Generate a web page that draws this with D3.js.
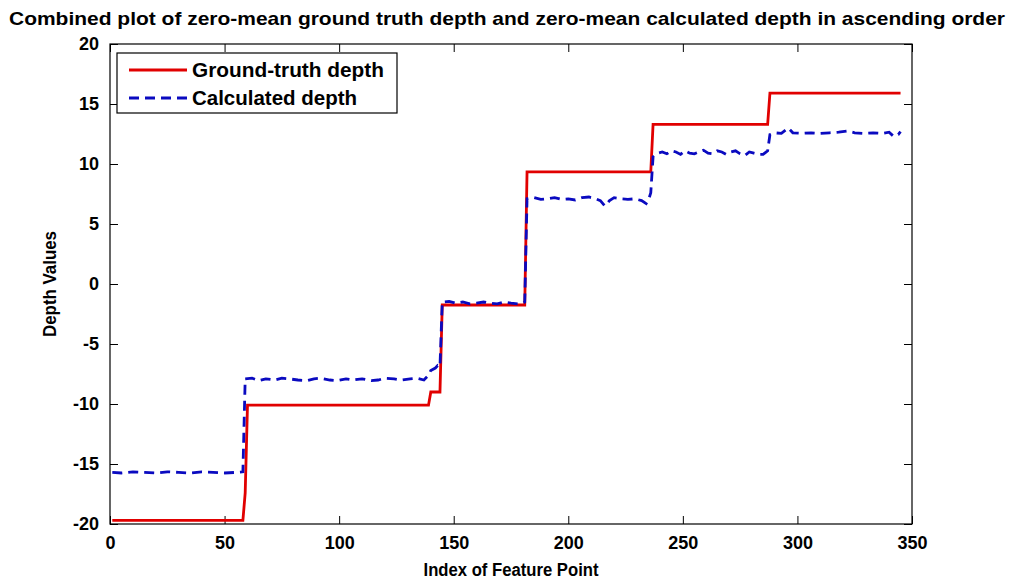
<!DOCTYPE html>
<html>
<head>
<meta charset="utf-8">
<script src="https://cdn.jsdelivr.net/npm/d3@7"></script>
<style>
  html, body { margin: 0; padding: 0; background: #fff; }
  svg { display: block; }
  text { font-family: "Liberation Sans", Arial, sans-serif; font-weight: bold; fill: #000; }
</style>
</head>
<body>
<svg id="chart" width="1012" height="581"></svg>
<script>
// ---- Data ----
const titleText = "Combined plot of zero-mean ground truth depth and zero-mean calculated depth in ascending order";
const xLabel = "Index of Feature Point";
const yLabel = "Depth Values";
const seriesNames = ["Ground-truth depth", "Calculated depth"];

const xTicks = [0, 50, 100, 150, 200, 250, 300, 350];
const yTicks = [-20, -15, -10, -5, 0, 5, 10, 15, 20];

// Ground-truth depth (index, value) at its step corners
const gtIndex = [1, 58, 59, 60, 139, 140, 144, 145, 181, 182, 236, 237, 287, 288, 345];
const gtValue = [-19.7, -19.7, -17.4, -10.1, -10.1, -9.0, -9.0, -1.75, -1.75, 9.35, 9.35, 13.3, 13.3, 15.9, 15.9];

// Calculated depth (index, value)
const calcIndex = [
  1, 5, 10, 15, 20, 25, 30, 35, 40, 45, 50, 55, 58,
  59, 62, 65, 68, 72, 75, 78, 82, 86, 89, 92, 96, 99, 103, 106, 110, 114, 117, 120, 124, 127, 131, 134, 137, 139, 140, 142, 143, 144,
  145, 148, 151, 154, 157, 160, 163, 166, 169, 172, 175, 178, 180, 181,
  182, 185, 188, 191, 194, 197, 200, 203, 206, 209, 212, 214, 216, 218, 220, 223, 226, 229, 232, 234, 235, 236,
  237, 239, 241, 243, 245, 247, 249, 251, 253, 255, 257, 259, 261, 263, 265, 267, 269, 271, 273, 275, 277, 279, 281, 283, 285, 286, 287,
  288, 290, 293, 296, 298, 302, 306, 310, 314, 318, 322, 325, 329, 333, 337, 340, 342, 344, 345
];
const calcValue = [
  -15.7, -15.75, -15.65, -15.7, -15.75, -15.65, -15.7, -15.75, -15.65, -15.7, -15.75, -15.7, -15.65,
  -7.9, -7.85, -8.05, -7.9, -8.0, -7.85, -7.9, -8.0, -8.05, -7.9, -7.85, -8.0, -8.05, -7.9, -8.0, -7.9, -8.05, -8.0, -7.85, -7.9, -8.0, -7.9, -7.85, -8.0, -7.6, -7.2, -7.0, -6.8, -6.9,
  -1.5, -1.45, -1.6, -1.5, -1.65, -1.6, -1.5, -1.6, -1.65, -1.5, -1.6, -1.65, -1.6, -1.5,
  7.1, 7.2, 7.05, 7.1, 7.2, 7.05, 7.1, 7.0, 7.2, 7.25, 7.1, 6.95, 6.5, 6.95, 7.2, 7.1, 7.05, 7.1, 6.95, 6.7, 7.0, 7.6,
  10.6, 10.9, 11.0, 10.85, 11.1, 11.0, 10.8, 11.1, 10.9, 10.85, 11.0, 11.15, 10.9, 10.85, 11.1, 11.0, 10.8, 11.0, 11.1, 10.85, 10.7, 11.0, 10.9, 10.8, 10.8, 10.95, 11.1,
  12.45, 12.6, 12.55, 13.0, 12.6, 12.55, 12.6, 12.55, 12.6, 12.65, 12.75, 12.6, 12.55, 12.6, 12.55, 12.65, 12.3, 12.45, 12.7
];

// ---- Layout ----
const svg = d3.select("#chart");
const pL = 110, pR = 912, pT = 44, pB = 524;
const x = d3.scaleLinear().domain([0, 350]).range([pL, pR]);
const y = d3.scaleLinear().domain([-20, 20]).range([pB, pT]);
const tickLen = 8;

// Title
svg.append("text")
  .attr("x", 507).attr("y", 25)
  .attr("text-anchor", "middle")
  .attr("font-size", 19)
  .attr("textLength", 996)
  .attr("lengthAdjust", "spacingAndGlyphs")
  .text(titleText);

// Axes with inward ticks (box)
const fmt = d => String(d);
const styleText = g => g.selectAll("text")
  .attr("font-size", 18).attr("font-family", "Liberation Sans, Arial, sans-serif")
  .attr("font-weight", "bold").attr("fill", "#000");
svg.append("g").attr("transform", `translate(0,${pB})`)
  .call(d3.axisBottom(x).tickValues(xTicks).tickSizeInner(-tickLen).tickSizeOuter(0).tickPadding(12).tickFormat(fmt))
  .call(g => g.select(".domain").remove())
  .call(styleText);
svg.append("g").attr("transform", `translate(0,${pT})`)
  .call(d3.axisTop(x).tickValues(xTicks).tickSizeInner(-tickLen).tickSizeOuter(0).tickFormat(""))
  .call(g => g.select(".domain").remove());
svg.append("g").attr("transform", `translate(${pL},0)`)
  .call(d3.axisLeft(y).tickValues(yTicks).tickSizeInner(-tickLen).tickSizeOuter(0).tickPadding(11).tickFormat(fmt))
  .call(g => g.select(".domain").remove())
  .call(styleText);
svg.append("g").attr("transform", `translate(${pR},0)`)
  .call(d3.axisRight(y).tickValues(yTicks).tickSizeInner(-tickLen).tickSizeOuter(0).tickFormat(""))
  .call(g => g.select(".domain").remove());

svg.append("rect")
  .attr("x", pL).attr("y", pT)
  .attr("width", pR - pL).attr("height", pB - pT)
  .attr("fill", "none").attr("stroke", "#000").attr("stroke-width", 1.2);

// Lines
const gtData = gtIndex.map((d, i) => [d, gtValue[i]]);
const calcData = calcIndex.map((d, i) => [d, calcValue[i]]);
const line = d3.line().x(d => x(d[0])).y(d => y(d[1]));

svg.append("path").datum(gtData)
  .attr("d", line)
  .attr("fill", "none").attr("stroke", "#e10000").attr("stroke-width", 2.8);

svg.append("path").datum(calcData)
  .attr("d", line)
  .attr("fill", "none").attr("stroke", "#0a0ac0").attr("stroke-width", 2.8)
  .attr("stroke-dasharray", "10,6");

// Legend
const lg = svg.append("g");
lg.append("rect")
  .attr("x", 117).attr("y", 53).attr("width", 280).attr("height", 60)
  .attr("fill", "#fff").attr("stroke", "#000").attr("stroke-width", 1.2);
const rows = [
  { name: seriesNames[0], color: "#e10000", dash: null, yy: 70, len: 192 },
  { name: seriesNames[1], color: "#0a0ac0", dash: "10,6", yy: 98, len: 165 }
];
rows.forEach(r => {
  const ln = lg.append("line")
    .attr("x1", 129).attr("x2", 187).attr("y1", r.yy).attr("y2", r.yy)
    .attr("stroke", r.color).attr("stroke-width", 2.8);
  if (r.dash) ln.attr("stroke-dasharray", r.dash);
  lg.append("text")
    .attr("x", 192).attr("y", r.yy + 7)
    .attr("font-size", 20)
    .attr("textLength", r.len)
    .attr("lengthAdjust", "spacingAndGlyphs")
    .text(r.name);
});

// Axis labels
svg.append("text")
  .attr("x", 511).attr("y", 576)
  .attr("text-anchor", "middle")
  .attr("font-size", 18)
  .attr("textLength", 175)
  .attr("lengthAdjust", "spacingAndGlyphs")
  .text(xLabel);
svg.append("text")
  .attr("transform", `translate(56,${(pT + pB) / 2}) rotate(-90)`)
  .attr("text-anchor", "middle")
  .attr("font-size", 18)
  .attr("textLength", 106)
  .attr("lengthAdjust", "spacingAndGlyphs")
  .text(yLabel);
</script>
</body>
</html>
